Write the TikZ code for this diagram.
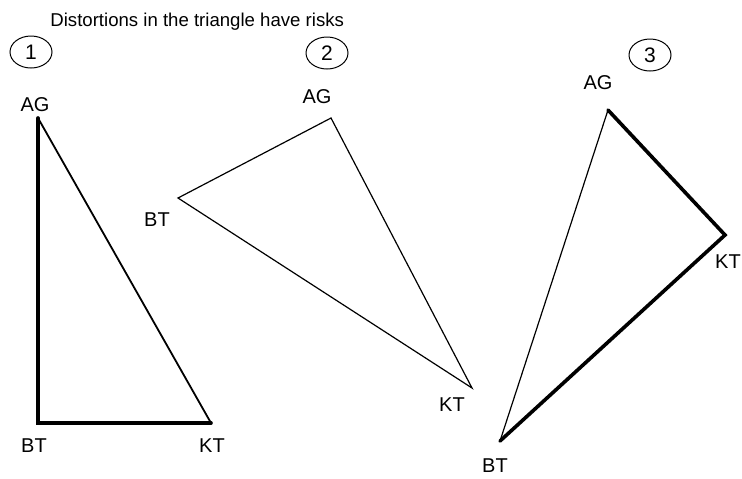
\documentclass[tikz,border=0pt]{standalone}
\usepackage{fontspec}
\setmainfont{Liberation Sans}
\usetikzlibrary{positioning}
\usetikzlibrary{shapes.geometric}
\tikzset{
    every node/.append style={inner sep=0pt},
    corner/.style={font=\fontsize{10}{12}\selectfont},
    number/.style={draw, ellipse, line width=0.5pt, minimum width=21pt, minimum height=16pt, font=\fontsize{10.5}{12}\selectfont},
    side/.style={line width=0.6pt, line cap=round},
    heavy/.style={line width=1.8pt, line cap=round},
    x=0.5pt, y=-0.5pt
}

\begin{document}
\begin{tikzpicture}
\useasboundingbox (0,0) rectangle (742,478);
\node[anchor=base west, font=\fontsize{9.3}{11}\selectfont] (title) at (50,26) {Distortions in the triangle have risks};

% first triangle
\node[number] (n1) at (31,52) {1};
\coordinate (ag1) at (38,118);
\coordinate (bt1) at (38,423);
\coordinate (kt1) at (211,423);
\node[corner] (lag1) at (35,105) {AG};
\node[corner] (lbt1) at (34,446) {BT};
\node[corner] (lkt1) at (212,446) {KT};
\draw[heavy, line join=miter] (ag1) -- (bt1) -- (kt1);
\draw[side, line width=0.9pt] (kt1) -- (ag1);

% second triangle
\node[number] (n2) at (327,53) {2};
\coordinate (ag2) at (331,118);
\coordinate (bt2) at (178,198);
\coordinate (kt2) at (472,388);
\node[corner] (lag2) at (317,97) {AG};
\node[corner] (lbt2) at (157,220) {BT};
\node[corner] (lkt2) at (452,405) {KT};
\draw[side] (ag2) -- (bt2) -- (kt2) -- cycle;

% third triangle
\node[number] (n3) at (650,55) {3};
\coordinate (ag3) at (608,110);
\coordinate (kt3) at (725,235);
\coordinate (bt3) at (500,441);
\node[corner] (lag3) at (598,83) {AG};
\node[corner] (lkt3) at (728,262) {KT};
\node[corner] (lbt3) at (495,466) {BT};
\draw[heavy, line join=miter] (ag3) -- (kt3) -- (bt3);
\draw[side] (bt3) -- (ag3);
\end{tikzpicture}
\end{document}
